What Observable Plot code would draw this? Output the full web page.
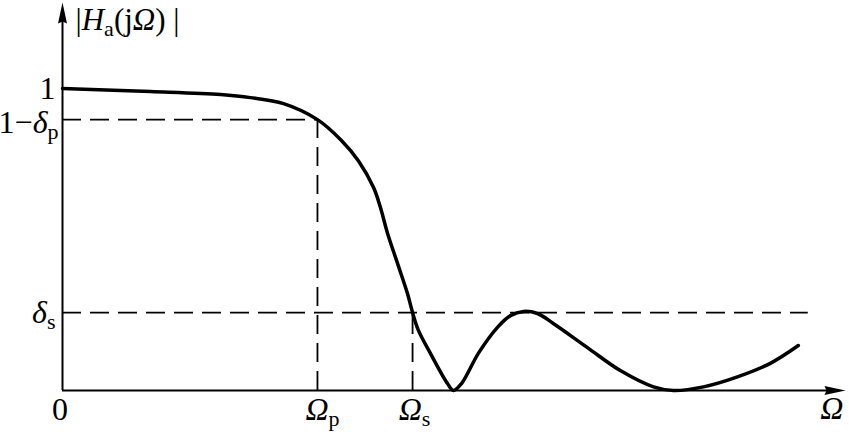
<!DOCTYPE html>
<html>
<head>
<meta charset="utf-8">
<script src="https://cdn.jsdelivr.net/npm/d3@7"></script>
<script src="https://cdn.jsdelivr.net/npm/@observablehq/plot@0.6"></script>
<style>
  html, body { margin: 0; padding: 0; background: #fff; }
</style>
</head>
<body>
<div id="chart"></div>
<script>
// Frequency (normalised so that Ωp = 1) and magnitude |Ha(jΩ)|
const omega = [0, 0.345, 0.620, 0.737, 0.867, 1.000, 1.094, 1.161, 1.220, 1.247, 1.275, 1.314, 1.353, 1.373, 1.396, 1.443, 1.510, 1.533, 1.565, 1.631, 1.706, 1.757, 1.808, 1.863, 1.925, 2.059, 2.188, 2.318, 2.396, 2.514, 2.647, 2.776, 2.886];
const magnitude = [1.000, 0.990, 0.980, 0.970, 0.950, 0.897, 0.828, 0.760, 0.672, 0.606, 0.520, 0.421, 0.321, 0.258, 0.199, 0.123, 0.023, 0.000, 0.023, 0.123, 0.209, 0.248, 0.262, 0.255, 0.222, 0.142, 0.066, 0.012, 0.000, 0.012, 0.045, 0.090, 0.149];

const omegaP = 1.0;
const omegaS = 1.373;
const passLevel = 0.897;   // 1 − δp
const stopLevel = 0.258;   // δs
const stopLineEnd = 2.925;
const xMax = 3.071;
const yMax = 1.285;

const yTickValues = [1, passLevel, stopLevel];
const yTickLabels = ["1", "1−δ_p", "δ_s"];
const xTickValues = [0, omegaP, omegaS];
const xTickLabels = ["0", "Ω_p", "Ω_s"];
const yAxisTitle = "|H_a(jΩ) |";
const xAxisTitle = "Ω";

const curve = omega.map((x, i) => ({x, y: magnitude[i]}));

const arrowUp = {draw(ctx) { ctx.moveTo(0, 0); ctx.lineTo(-4.5, 21); ctx.lineTo(0, 19); ctx.lineTo(4.5, 21); ctx.closePath(); }};
const arrowRight = {draw(ctx) { ctx.moveTo(0, 0); ctx.lineTo(-21, -4.5); ctx.lineTo(-19, 0); ctx.lineTo(-21, 4.5); ctx.closePath(); }};

const font = "'Liberation Serif', 'Times New Roman', serif";
const fs = 32;
const dash = "19,9";

const plot = Plot.plot({
  width: 849,
  height: 432,
  marginLeft: 62,
  marginRight: 4,
  marginTop: 2,
  marginBottom: 42,
  x: {domain: [0, xMax], axis: null},
  y: {domain: [0, yMax], axis: null},
  marks: [
    // dashed guide lines
    Plot.ruleY([{y: passLevel, x2: omegaP}], {y: "y", x1: 0, x2: "x2", stroke: "black", strokeWidth: 1.8, strokeDasharray: dash}),
    Plot.ruleY([{y: stopLevel, x2: stopLineEnd}], {y: "y", x1: 0, x2: "x2", stroke: "black", strokeWidth: 1.8, strokeDasharray: dash}),
    Plot.ruleX([{x: omegaP, y2: passLevel}], {x: "x", y1: 0, y2: "y2", stroke: "black", strokeWidth: 1.8, strokeDasharray: dash}),
    Plot.ruleX([{x: omegaS, y2: stopLevel}], {x: "x", y1: 0, y2: "y2", stroke: "black", strokeWidth: 1.8, strokeDasharray: dash}),
    // axes
    Plot.ruleY([0], {x1: 0, x2: xMax - 0.06, stroke: "black", strokeWidth: 2}),
    Plot.ruleX([0], {y1: 0, y2: yMax - 0.05, stroke: "black", strokeWidth: 2}),
    Plot.dot([{x: 0, y: yMax}], {x: "x", y: "y", r: 5, symbol: arrowUp, fill: "black", stroke: "none"}),
    Plot.dot([{x: xMax, y: 0}], {x: "x", y: "y", r: 5, symbol: arrowRight, fill: "black", stroke: "none"}),
    // response curve
    Plot.line(curve, {x: "x", y: "y", curve: "catmull-rom", stroke: "black", strokeWidth: 3.5}),
    // tick labels
    Plot.text(yTickValues, {x: 0, y: d => d, text: (d, i) => yTickLabels[i], textAnchor: "end", dx: -7, fontFamily: font, fontSize: fs, fill: "black"}),
    Plot.text(xTickValues, {x: d => d, y: 0, text: (d, i) => xTickLabels[i], textAnchor: "middle", lineAnchor: "top", dy: 7, fontFamily: font, fontSize: fs, fill: "black"}),
    Plot.text([yAxisTitle], {x: 0, y: yMax, text: d => d, textAnchor: "start", lineAnchor: "top", dx: 13, dy: 5, fontFamily: font, fontSize: 31, fill: "black"}),
    Plot.text([xAxisTitle], {x: xMax, y: 0, text: d => d, textAnchor: "end", lineAnchor: "top", dx: -2, dy: 6, fontFamily: font, fontSize: fs, fill: "black"})
  ]
});

document.getElementById("chart").appendChild(plot);

// Rich text: italic symbols and subscripts
const NS = "http://www.w3.org/2000/svg";
const italics = "ΩδH";
const xShift = {"0": -2.5, "Ω_p": 5, "Ω_s": 2, "1−δ_p": 3};
const yShift = {"1−δ_p": 3};
d3.select(plot).selectAll("text").each(function() {
  const s = this.textContent;
  this.textContent = "";
  if (xShift[s] != null) this.setAttribute("dx", xShift[s]);
  if (yShift[s] != null) this.setAttribute("dy", yShift[s]);
  let shifted = false;
  for (let i = 0; i < s.length; i++) {
    let ch = s[i], sub = false;
    if (ch === "_") { sub = true; ch = s[++i]; }
    const t = document.createElementNS(NS, "tspan");
    t.textContent = ch;
    if (italics.includes(ch)) t.setAttribute("font-style", "italic");
    if (sub) {
      t.setAttribute("font-size", 22);
      if (!shifted) { t.setAttribute("dy", 6); shifted = true; }
    } else if (shifted) {
      t.setAttribute("dy", -6); shifted = false;
    }
    this.appendChild(t);
  }
});
</script>
</body>
</html>
